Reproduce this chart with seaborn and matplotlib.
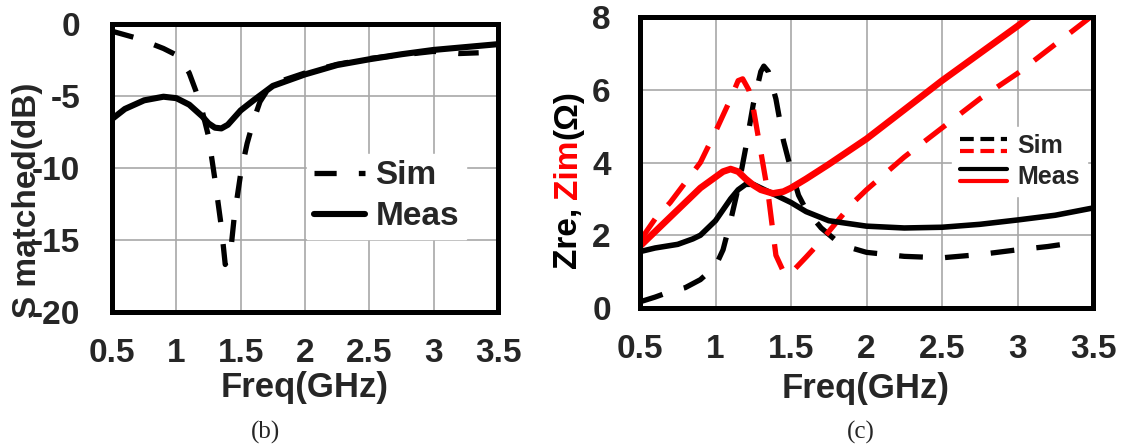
import numpy as np
import pandas as pd
import matplotlib
matplotlib.use("Agg")
import matplotlib.pyplot as plt
import seaborn as sns
from matplotlib.lines import Line2D
from matplotlib.legend_handler import HandlerBase

# ---------------- data ----------------
# panel (b): S matched (dB)
freq_b_sim = [0.5, 0.6, 0.7, 0.8, 0.9, 1.0, 1.05, 1.1, 1.15, 1.2, 1.25, 1.3, 1.35, 1.38,
              1.42, 1.45, 1.5, 1.55, 1.6, 1.65, 1.7, 1.75, 1.8, 1.9, 2.0, 2.25, 2.5, 2.75,
              3.0, 3.2, 3.35]
s_sim = [-0.5, -0.75, -1.0, -1.35, -1.7, -2.15, -2.7, -3.4, -4.6, -6.0, -7.8, -10.8, -14.1,
         -16.7, -16.0, -13.4, -10.4, -8.3, -6.7, -5.4, -4.7, -4.2, -4.0, -3.7, -3.4, -2.8,
         -2.4, -2.15, -1.9, -2.05, -2.0]
freq_b_meas = [0.5, 0.6, 0.75, 0.9, 1.0, 1.1, 1.2, 1.25, 1.3, 1.35, 1.4, 1.5, 1.6, 1.75,
               2.0, 2.25, 2.5, 2.75, 3.0, 3.25, 3.5]
s_meas = [-6.6, -5.9, -5.3, -5.05, -5.15, -5.6, -6.4, -6.9, -7.2, -7.25, -7.0, -6.0, -5.3,
          -4.3, -3.5, -2.85, -2.45, -2.1, -1.8, -1.6, -1.4]

# panel (c): Zre / Zim (Ohm)
freq_c_zre_sim = [0.5, 0.6, 0.7, 0.8, 0.9, 1.0, 1.05, 1.1, 1.15, 1.2, 1.25, 1.3, 1.32, 1.35,
                  1.4, 1.45, 1.5, 1.55, 1.6, 1.7, 1.8, 1.9, 2.0, 2.25, 2.5, 2.75, 3.0, 3.2,
                  3.35, 3.42]
zre_sim = [0.17, 0.3, 0.45, 0.56, 0.78, 1.15, 1.6, 2.4, 3.3, 4.4, 5.6, 6.5, 6.65, 6.5,
           5.75, 4.6, 3.8, 3.1, 2.7, 2.2, 1.85, 1.65, 1.53, 1.42, 1.38, 1.47, 1.6, 1.69,
           1.78, 1.82]
freq_c_zim_sim = [0.5, 0.6, 0.7, 0.8, 0.9, 1.0, 1.05, 1.1, 1.15, 1.18, 1.22, 1.25, 1.3, 1.35,
                  1.4, 1.45, 1.48, 1.52, 1.6, 1.7, 1.8, 1.9, 2.0, 2.25, 2.5, 2.75, 3.0,
                  3.25, 3.5]
zim_sim = [1.85, 2.45, 2.9, 3.45, 4.0, 4.85, 5.3, 5.75, 6.25, 6.3, 6.0, 5.5, 4.3, 3.1, 1.45,
           1.0, 0.9, 1.05, 1.4, 1.85, 2.35, 2.85, 3.25, 4.15, 4.95, 5.75, 6.45, 7.25, 8.05]
freq_c_zre_meas = [0.5, 0.6, 0.75, 0.85, 0.9, 1.0, 1.1, 1.15, 1.2, 1.25, 1.3, 1.4, 1.5, 1.6,
                   1.75, 2.0, 2.25, 2.5, 2.75, 3.0, 3.25, 3.5]
zre_meas = [1.55, 1.65, 1.75, 1.9, 2.0, 2.4, 3.0, 3.25, 3.4, 3.4, 3.3, 3.1, 2.9, 2.65, 2.4,
            2.25, 2.2, 2.22, 2.3, 2.42, 2.55, 2.75]
freq_c_zim_meas = [0.5, 0.6, 0.75, 0.9, 1.0, 1.05, 1.1, 1.15, 1.2, 1.25, 1.3, 1.38, 1.45,
                   1.5, 1.6, 1.75, 2.0, 2.25, 2.5, 2.75, 3.0, 3.25, 3.5]
zim_meas = [1.7, 2.1, 2.7, 3.3, 3.6, 3.75, 3.82, 3.75, 3.55, 3.38, 3.25, 3.15, 3.2, 3.3,
            3.55, 3.95, 4.65, 5.45, 6.25, 7.0, 7.75, 8.55, 9.3]

x_ticks = [0.5, 1, 1.5, 2, 2.5, 3, 3.5]
x_ticklabels = ["0.5", "1", "1.5", "2", "2.5", "3", "3.5"]
yb_ticks = [0, -5, -10, -15, -20]
yb_ticklabels = ["0", "-5", "-10", "-15", "-20"]
yc_ticks = [0, 2, 4, 6, 8]
yc_ticklabels = ["0", "2", "4", "6", "8"]

# ---------------- style ----------------
sns.set_theme(style="whitegrid")
plt.rcParams["font.family"] = ["Liberation Sans", "DejaVu Sans"]
plt.rcParams["font.weight"] = "bold"
plt.rcParams["axes.unicode_minus"] = False

W, H = 1128, 448
fig = plt.figure(figsize=(W / 100, H / 100), dpi=100)
fig.patch.set_facecolor("white")

TICK_FS = 24
LBL_FS = 24
SPINE_LW = 3.6
GRID_C = "#a8a8a8"


def px_axes(l, t, r, b):
    return fig.add_axes([l / W, 1 - b / H, (r - l) / W, (b - t) / H])


def style_axes(ax, yticks, ylabels, ylim, ypad):
    ax.set_facecolor("white")
    ax.set_xlim(0.5, 3.5)
    ax.set_ylim(*ylim)
    ax.set_xticks(x_ticks)
    ax.set_xticklabels(x_ticklabels, fontsize=TICK_FS, fontweight="bold")
    ax.set_yticks(yticks)
    ax.set_yticklabels(ylabels, fontsize=TICK_FS, fontweight="bold")
    ax.tick_params(axis="x", length=0, pad=19)
    ax.tick_params(axis="y", length=0, pad=ypad)
    ax.grid(True, color=GRID_C, lw=1.2)
    ax.set_axisbelow(True)
    for s in ax.spines.values():
        s.set_visible(True)
        s.set_color("black")
        s.set_linewidth(SPINE_LW)
        s.set_zorder(5)
    ax.set_xlabel("")
    ax.set_ylabel("")


# ---------------- panel (b) ----------------
axb = px_axes(112, 24, 498, 312)
df_bs = pd.DataFrame({"f": freq_b_sim, "v": s_sim})
df_bm = pd.DataFrame({"f": freq_b_meas, "v": s_meas})
sns.lineplot(data=df_bs, x="f", y="v", ax=axb, color="black", lw=3.8,
             linestyle=(0, (4.2, 4.2)), label="Sim")
sns.lineplot(data=df_bm, x="f", y="v", ax=axb, color="black", lw=4.4,
             linestyle="-", label="Meas")
style_axes(axb, yb_ticks, yb_ticklabels, (-20, 0), 23)
leg = axb.legend(loc="upper left", bbox_to_anchor=(0.505, 0.55), borderaxespad=0,
                 frameon=True, fancybox=False, framealpha=1, edgecolor="white",
                 facecolor="white", prop={"size": 24, "weight": "bold"},
                 handlelength=1.55, handletextpad=0.3, labelspacing=0.3, borderpad=0.2)

fig.text(28 / W, 1 - 200 / H, "S matched(dB)", rotation=90, ha="center", va="center",
         fontsize=LBL_FS, fontweight="bold")
fig.text(305 / W, 1 - 387 / H, "Freq(GHz)", ha="center", va="center",
         fontsize=LBL_FS + 1, fontweight="bold")
fig.text(266 / W, 1 - 432 / H, "(b)", ha="center", va="center", fontsize=18,
         family="Liberation Serif", fontweight="normal")

# ---------------- panel (c) ----------------
axc = px_axes(640, 17, 1093, 308)
df_zre_s = pd.DataFrame({"f": freq_c_zre_sim, "v": zre_sim})
df_zim_s = pd.DataFrame({"f": freq_c_zim_sim, "v": zim_sim})
df_zre_m = pd.DataFrame({"f": freq_c_zre_meas, "v": zre_meas})
df_zim_m = pd.DataFrame({"f": freq_c_zim_meas, "v": zim_meas})
sns.lineplot(data=df_zre_s, x="f", y="v", ax=axc, color="black", lw=3.8,
             linestyle=(0, (4.5, 4.2)))
sns.lineplot(data=df_zim_s, x="f", y="v", ax=axc, color="#ff0000", lw=3.8,
             linestyle=(0, (5, 3.6)))
sns.lineplot(data=df_zre_m, x="f", y="v", ax=axc, color="black", lw=4.0, linestyle="-")
sns.lineplot(data=df_zim_m, x="f", y="v", ax=axc, color="#ff0000", lw=4.8, linestyle="-")
style_axes(axc, yc_ticks, yc_ticklabels, (0, 8), 21)


class StackHandler(HandlerBase):
    def create_artists(self, legend, orig_handle, xdescent, ydescent, width, height,
                       fontsize, trans):
        arts = []
        n = len(orig_handle)
        for i, h in enumerate(orig_handle):
            y = -ydescent + height * (0.85 - 0.7 * i / max(n - 1, 1))
            ln = Line2D([-xdescent, width - xdescent], [y, y], color=h.get_color(),
                        lw=h.get_linewidth(), linestyle=h.get_linestyle(),
                        transform=trans)
            if h.get_linestyle() != "-":
                ln.set_dashes((3.3, 1.6))
            arts.append(ln)
        return arts


h_sim = (Line2D([], [], color="black", lw=3, linestyle="--"),
         Line2D([], [], color="#ff0000", lw=3, linestyle="--"))
h_meas = (Line2D([], [], color="black", lw=3, linestyle="-"),
          Line2D([], [], color="#ff0000", lw=3, linestyle="-"))
axc.legend([h_sim, h_meas], ["Sim", "Meas"], handler_map={tuple: StackHandler()},
           loc="upper left", bbox_to_anchor=(0.689, 0.622), borderaxespad=0,
           frameon=True, fancybox=False, framealpha=1, edgecolor="white",
           facecolor="white", prop={"size": 18, "weight": "bold"},
           handlelength=1.9, handletextpad=0.4, labelspacing=0.25, borderpad=0.3)

fig.text(866 / W, 1 - 388 / H, "Freq(GHz)", ha="center", va="center",
         fontsize=LBL_FS + 1, fontweight="bold")
fig.text(861 / W, 1 - 432 / H, "(c)", ha="center", va="center", fontsize=18,
         family="Liberation Serif", fontweight="normal")

# multi-coloured y label for panel (c)
fig.canvas.draw()
renderer = fig.canvas.get_renderer()
x_lab = 568 / W
y_cur = 1 - 268 / H
for txt, col, gap in [("Zre,", "black", 8), ("Zim", "#ff0000", 0), ("(Ω)", "black", 0)]:
    t = fig.text(x_lab, y_cur, txt, rotation=90, ha="center", va="bottom",
                 color=col, fontsize=LBL_FS, fontweight="bold")
    bb = t.get_window_extent(renderer)
    y_cur = (bb.y1 + gap) / H

fig.savefig("out.png", dpi=100, facecolor="white")
